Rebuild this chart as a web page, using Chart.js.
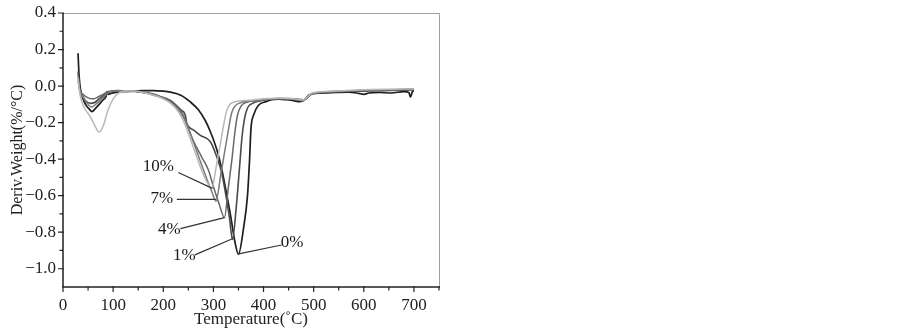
<!DOCTYPE html>
<html>
<head>
<meta charset="utf-8">
<script src="https://cdn.jsdelivr.net/npm/chart.js@4.4.1/dist/chart.umd.min.js"></script>
<style>
  html, body { margin: 0; padding: 0; background: #ffffff; }
  #wrap { width: 903px; height: 333px; }
</style>
</head>
<body>
<div id="wrap"><canvas id="c" width="903" height="333"></canvas></div>
<script>
// ---- data ----
const seriesNames = ['10%', '7%', '4%', '1%', '0%'];
const xTickLabels = [0, 100, 200, 300, 400, 500, 600, 700];
const xMinorTicks = [50, 150, 250, 350, 450, 550, 650, 750];
const yTickLabels = [0.4, 0.2, 0.0, -0.2, -0.4, -0.6, -0.8, -1.0];
const yMinorTicks = [0.3, 0.1, -0.1, -0.3, -0.5, -0.7, -0.9];

const t0 = [30, 32, 35, 40, 46, 52, 58, 64, 72, 80, 86, 88, 90, 96, 105, 120, 140, 160, 180, 200, 214, 235, 254, 270, 284, 294, 307, 317, 327, 335, 342, 350, 360, 368, 372, 375, 380, 390, 405, 416, 430, 445, 460, 472, 482, 490, 500, 520, 545, 570, 590, 600, 610, 630, 655, 680, 690, 693, 697, 700];
const v0 = [0.18, 0.06, -0.02, -0.07, -0.105, -0.125, -0.14, -0.125, -0.1, -0.075, -0.055, -0.03, -0.045, -0.04, -0.035, -0.03, -0.028, -0.025, -0.025, -0.028, -0.033, -0.05, -0.087, -0.13, -0.19, -0.25, -0.35, -0.46, -0.6, -0.72, -0.84, -0.92, -0.78, -0.6, -0.41, -0.23, -0.16, -0.105, -0.085, -0.075, -0.072, -0.075, -0.08, -0.085, -0.075, -0.05, -0.04, -0.038, -0.035, -0.033, -0.04, -0.045, -0.038, -0.035, -0.038, -0.03, -0.035, -0.06, -0.03, -0.025];

const t1 = [30, 33, 38, 45, 55, 63, 72, 82, 95, 110, 130, 150, 174, 195, 214, 235, 244, 247, 260, 274, 294, 307, 317, 325, 332, 338, 346, 352, 357, 362, 368, 378, 395, 420, 450, 470, 485, 495, 520, 560, 600, 640, 680, 700];
const v1 = [0.08, -0.01, -0.05, -0.08, -0.095, -0.09, -0.07, -0.05, -0.03, -0.025, -0.028, -0.032, -0.04, -0.058, -0.078, -0.13, -0.16, -0.205, -0.24, -0.27, -0.305, -0.39, -0.48, -0.6, -0.72, -0.84, -0.65, -0.45, -0.28, -0.18, -0.12, -0.095, -0.08, -0.07, -0.07, -0.078, -0.07, -0.045, -0.035, -0.03, -0.028, -0.025, -0.022, -0.02];

const t4 = [30, 34, 40, 50, 60, 70, 80, 90, 110, 130, 150, 175, 200, 215, 230, 240, 247, 260, 277, 290, 300, 312, 322, 330, 337, 343, 348, 355, 365, 385, 410, 440, 465, 480, 495, 520, 560, 600, 650, 700];
const v4 = [0.05, -0.02, -0.045, -0.065, -0.07, -0.06, -0.045, -0.03, -0.025, -0.027, -0.03, -0.045, -0.065, -0.085, -0.12, -0.16, -0.21, -0.3, -0.39, -0.46, -0.55, -0.65, -0.72, -0.55, -0.4, -0.25, -0.16, -0.11, -0.09, -0.08, -0.072, -0.068, -0.07, -0.075, -0.045, -0.033, -0.028, -0.025, -0.02, -0.018];

const t7 = [30, 33, 40, 50, 57, 65, 75, 85, 95, 110, 130, 150, 175, 200, 215, 230, 240, 250, 262, 275, 287, 297, 305, 315, 323, 330, 336, 343, 355, 375, 400, 430, 460, 478, 495, 520, 560, 600, 650, 700];
const v7 = [0.03, -0.02, -0.06, -0.1, -0.115, -0.1, -0.075, -0.05, -0.03, -0.025, -0.027, -0.03, -0.045, -0.065, -0.09, -0.13, -0.17, -0.23, -0.32, -0.42, -0.51, -0.58, -0.63, -0.48, -0.35, -0.24, -0.15, -0.11, -0.09, -0.082, -0.075, -0.068, -0.072, -0.08, -0.045, -0.032, -0.027, -0.022, -0.02, -0.015];

const t10 = [30, 33, 38, 45, 55, 65, 72, 80, 90, 100, 110, 130, 150, 175, 200, 215, 230, 240, 250, 262, 275, 286, 297, 305, 313, 320, 326, 333, 345, 370, 400, 430, 460, 480, 495, 520, 560, 600, 650, 700];
const v10 = [0.05, -0.03, -0.09, -0.13, -0.17, -0.225, -0.252, -0.22, -0.13, -0.07, -0.04, -0.025, -0.03, -0.045, -0.07, -0.095, -0.14, -0.19, -0.26, -0.35, -0.45, -0.52, -0.56, -0.45, -0.33, -0.22, -0.14, -0.1, -0.085, -0.078, -0.07, -0.065, -0.07, -0.075, -0.04, -0.03, -0.025, -0.02, -0.017, -0.015];

// annotation labels (data units): text position, leader start, leader end
const annText = ['10%', '7%', '4%', '1%', '0%'];
const annTextT = [190, 197, 212, 242, 457];
const annTextV = [-0.442, -0.614, -0.787, -0.929, -0.854];
const annFromT = [230, 227, 234, 263, 348];
const annFromV = [-0.473, -0.62, -0.78, -0.924, -0.92];
const annToT = [298, 305, 322, 338, 436];
const annToV = [-0.56, -0.62, -0.72, -0.836, -0.87];

// ---- build ----
const zip = (t, v) => t.map((x, i) => ({ x: x, y: v[i] }));
const colors = ['#b8b8b8', '#7a7a7a', '#666666', '#4a4a4a', '#1e1e1e'];
const widths = [1.5, 1.5, 1.5, 1.6, 1.7];
const series = [zip(t10, v10), zip(t7, v7), zip(t4, v4), zip(t1, v1), zip(t0, v0)];

const SERIF = '"Liberation Serif", "Times New Roman", serif';
const fmtY = v => (Math.abs(v) < 1e-9 ? '0.0' : (v < 0 ? '\u2212' + Math.abs(v).toFixed(1) : v.toFixed(1)));

const framePlugin = {
  id: 'frame',
  beforeDatasetsDraw(chart) {
    const { ctx, chartArea: a, scales } = chart;
    const xs = scales.x, ys = scales.y;
    ctx.save();
    ctx.strokeStyle = '#a0a0a0';
    ctx.lineWidth = 1;
    ctx.beginPath();
    ctx.moveTo(a.left, a.top + 0.5); ctx.lineTo(a.right + 0.5, a.top + 0.5);
    ctx.lineTo(a.right + 0.5, a.bottom);
    ctx.stroke();
    ctx.strokeStyle = '#222';
    ctx.lineWidth = 1.5;
    ctx.beginPath();
    ctx.moveTo(a.left, a.top); ctx.lineTo(a.left, a.bottom); ctx.lineTo(a.right + 1, a.bottom);
    ctx.stroke();
    ctx.lineWidth = 1.2;
    ctx.beginPath();
    xTickLabels.forEach(v => { const p = xs.getPixelForValue(v); ctx.moveTo(p, a.bottom - 1); ctx.lineTo(p, a.bottom + 5); });
    xMinorTicks.forEach(v => { const p = xs.getPixelForValue(v); ctx.moveTo(p, a.bottom); ctx.lineTo(p, a.bottom + 3.5); });
    yTickLabels.forEach(v => { const p = ys.getPixelForValue(v); ctx.moveTo(a.left + 1, p); ctx.lineTo(a.left - 5, p); });
    yMinorTicks.forEach(v => { const p = ys.getPixelForValue(v); ctx.moveTo(a.left, p); ctx.lineTo(a.left - 3.5, p); });
    ctx.stroke();
    ctx.restore();
  },
  afterDatasetsDraw(chart) {
    const { ctx, scales } = chart;
    const xs = scales.x, ys = scales.y;
    ctx.save();
    ctx.strokeStyle = '#333';
    ctx.lineWidth = 1.2;
    ctx.fillStyle = '#1a1a1a';
    ctx.font = '17px ' + SERIF;
    ctx.textAlign = 'center';
    ctx.textBaseline = 'middle';
    annText.forEach((txt, i) => {
      ctx.beginPath();
      ctx.moveTo(xs.getPixelForValue(annFromT[i]), ys.getPixelForValue(annFromV[i]));
      ctx.lineTo(xs.getPixelForValue(annToT[i]), ys.getPixelForValue(annToV[i]));
      ctx.stroke();
      ctx.fillText(txt, xs.getPixelForValue(annTextT[i]), ys.getPixelForValue(annTextV[i]));
    });
    ctx.restore();
  }
};

new Chart(document.getElementById('c'), {
  type: 'scatter',
  data: {
    datasets: series.map((d, i) => ({
      label: seriesNames[i],
      data: d,
      showLine: true,
      borderColor: colors[i],
      backgroundColor: colors[i],
      borderWidth: widths[i],
      pointRadius: 0,
      cubicInterpolationMode: 'monotone',
      fill: false
    }))
  },
  options: {
    responsive: false,
    animation: false,
    devicePixelRatio: 1,
    layout: { padding: { left: 0, top: 13, right: 464, bottom: 0 } },
    plugins: { legend: { display: false }, tooltip: { enabled: false } },
    scales: {
      x: {
        type: 'linear', min: 0, max: 750,
        grid: { display: false, drawTicks: false },
        border: { display: false },
        afterBuildTicks: s => { s.ticks = xTickLabels.map(v => ({ value: v })); },
        afterFit: s => { s.height = 46; s.paddingLeft = 0; s.paddingRight = 0; },
        ticks: { padding: 8, color: '#222', font: { family: SERIF, size: 17 }, maxRotation: 0, autoSkip: false, callback: v => String(v) },
        title: { display: true, text: 'Temperature(\u02DAC)', color: '#222', font: { family: SERIF, size: 17 }, padding: { top: 0, bottom: 3 } }
      },
      y: {
        type: 'linear', min: -1.1, max: 0.4,
        grid: { display: false, drawTicks: false },
        border: { display: false },
        afterBuildTicks: s => { s.ticks = yTickLabels.map(v => ({ value: v })); },
        afterFit: s => { s.width = 63; s.paddingTop = 0; s.paddingBottom = 0; },
        ticks: { padding: 7, color: '#222', font: { family: SERIF, size: 17 }, autoSkip: false, callback: v => fmtY(v) },
        title: { display: true, text: 'Deriv.Weight(%/\u00B0C)', color: '#222', font: { family: SERIF, size: 16 }, padding: { top: 8, bottom: 0 } }
      }
    }
  },
  plugins: [framePlugin]
});
</script>
</body>
</html>
